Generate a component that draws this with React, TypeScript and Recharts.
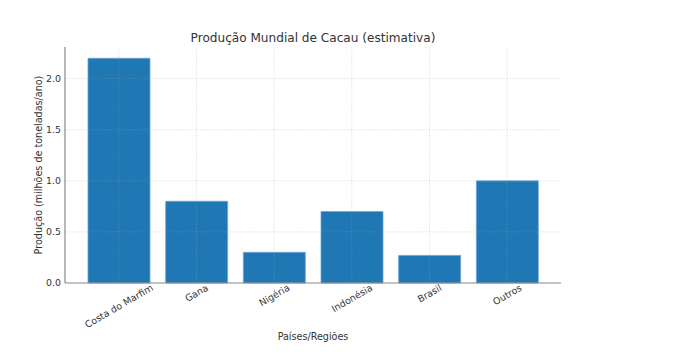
import React from 'react';
import { BarChart, Bar, XAxis, YAxis, ReferenceLine } from 'recharts';

const categories = ['Costa do Marfim', 'Gana', 'Nigéria', 'Indonésia', 'Brasil', 'Outros'];
const production = [2.2, 0.8, 0.3, 0.7, 0.27, 1.0];
const yTicks = [0, 0.5, 1.0, 1.5, 2.0];
const gridY = [0.5, 1.0, 1.5, 2.0];

const data = categories.map((c, i) => ({ name: c, value: production[i] }));

const FONT = 'DejaVu Sans, sans-serif';
const TICK_SIZE = 9.4;

let ctx: CanvasRenderingContext2D | null = null;
function measure(t: string): number {
  if (!ctx) {
    const c = document.createElement('canvas');
    ctx = c.getContext('2d');
  }
  if (!ctx) return t.length * 6;
  ctx.font = `${TICK_SIZE}px "DejaVu Sans"`;
  return ctx.measureText(t).width;
}

const XTick = (props: any) => {
  const { x, y, payload } = props;
  const w = measure(payload.value);
  const h = TICK_SIZE * 1.16;
  const s = Math.sin(Math.PI / 6);
  const c = Math.cos(Math.PI / 6);
  const top = y - 1;
  const cy = top + (w * s + h * c) / 2;
  return (
    <text
      x={x}
      y={cy}
      textAnchor="middle"
      dominantBaseline="central"
      transform={`rotate(-30, ${x}, ${cy})`}
      fill="#333"
      fontSize={TICK_SIZE}
      fontFamily={FONT}
    >
      {payload.value}
    </text>
  );
};

const gridProps = { stroke: '#a8a8a8', strokeOpacity: 0.3, strokeDasharray: '2 1', strokeWidth: 0.8 };

export default function App() {
  return (
    <div style={{ position: 'absolute', left: 0, top: 0, width: 692, height: 354, background: '#fff' }}>
      <div
        style={{
          position: 'absolute',
          left: 0,
          width: 626,
          top: 31,
          textAlign: 'center',
          fontFamily: FONT,
          fontSize: 12.1,
          color: '#333',
          lineHeight: '14px',
        }}
      >
        Produção Mundial de Cacau (estimativa)
      </div>
      <div
        style={{
          position: 'absolute',
          left: 0,
          width: 626,
          top: 331,
          textAlign: 'center',
          fontFamily: FONT,
          fontSize: 9.6,
          color: '#333',
          lineHeight: '12px',
        }}
      >
        Países/Regiões
      </div>
      <div
        style={{
          position: 'absolute',
          left: 39 - 150,
          top: 165 - 6,
          width: 300,
          textAlign: 'center',
          fontFamily: FONT,
          fontSize: 9.6,
          color: '#333',
          lineHeight: '12px',
          transform: 'rotate(-90deg)',
        }}
      >
        Produção (milhões de toneladas/ano)
      </div>
      <div style={{ position: 'absolute', left: 0, top: 0 }}>
        <BarChart
          width={692}
          height={354}
          data={data}
          margin={{ top: 47, right: 131, bottom: 0, left: 5 }}
        >
          <XAxis
            dataKey="name"
            interval={0}
            padding={{ left: 15, right: 15 }}
            tick={<XTick />}
            tickLine={false}
            tickSize={0}
            tickMargin={0}
            axisLine={{ stroke: '#888', strokeWidth: 1.2 }}
            height={71}
          />
          <YAxis
            width={60}
            domain={[0, 2.31]}
            ticks={yTicks}
            tickFormatter={(v: number) => v.toFixed(1)}
            tickLine={false}
            tickSize={0}
            tickMargin={4}
            axisLine={{ stroke: '#888', strokeWidth: 1.2 }}
            tick={{ fill: '#333', fontSize: TICK_SIZE, fontFamily: FONT }}
          />
          <Bar
            dataKey="value"
            fill="#1f77b4"
            stroke="#6ea6d4"
            strokeWidth={0.8}
            barSize={62}
            isAnimationActive={false}
          />
          {gridY.map((v) => (
            <ReferenceLine key={'h' + v} y={v} {...gridProps} />
          ))}
          {categories.map((c) => (
            <ReferenceLine key={'v' + c} x={c} {...gridProps} />
          ))}
        </BarChart>
      </div>
    </div>
  );
}
